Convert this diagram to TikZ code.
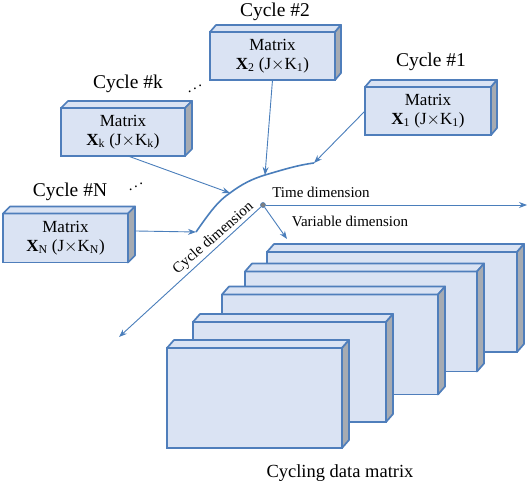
\documentclass[tikz,border=0pt]{standalone}
\usepackage{fontspec}
\setmainfont{Liberation Serif}
\usetikzlibrary{arrows.meta, positioning, calc}
\definecolor{mtxline}{HTML}{4F7EBB}
\definecolor{mtxfill}{HTML}{DAE3F3}
\definecolor{mtxside}{HTML}{A6ABB2}
\definecolor{axisblue}{HTML}{4A7EBB}
\tikzset{
    mtx/.style={rectangle, draw=mtxline, fill=mtxfill, line width=1.7pt, inner sep=0pt, outer sep=0pt, align=center, font=\fontsize{17}{19}\selectfont},
    topface/.style={draw=mtxline, fill=mtxfill, line width=1.7pt, line join=round},
    sideface/.style={draw=mtxline, fill=mtxside, line width=1.7pt, line join=round},
    cyclelbl/.style={font=\fontsize{19.5}{21}\selectfont},
    dimlbl/.style={font=\fontsize{15}{17}\selectfont, inner sep=1pt},
    dotslbl/.style={font=\fontsize{15}{16}\selectfont, inner sep=0pt},
    arrow/.style={draw=axisblue, line width=0.9pt, -{Stealth[length=8pt, width=6pt]}},
    cyclecurve/.style={draw=axisblue, line width=1.6pt}
}
% faces haut et cote d'un bloc
\newcommand{\boxfaces}[3]{%
    \draw[topface] (#1.north west) -- ++(#2,#3) -- ($(#1.north east)+(#2,#3)$) -- (#1.north east) -- cycle;
    \draw[sideface] (#1.north east) -- ++(#2,#3) -- ($(#1.south east)+(#2,#3)$) -- (#1.south east) -- cycle;
}

\begin{document}
\begin{tikzpicture}[x=1pt, y=-1pt]
    \useasboundingbox (0,0) rectangle (528,484);

    % --- BLOCS DE CYCLE ---
    \node (cyc2) [mtx, minimum width=125pt, minimum height=48pt] at (272.5,56) {Matrix\\\textbf{X}\textsubscript{2} (J$\times$K\textsubscript{1})};
    \boxfaces{cyc2}{6}{-7}
    \node (cyc1) [mtx, minimum width=126pt, minimum height=48pt] at (428,111) {Matrix\\\textbf{X}\textsubscript{1} (J$\times$K\textsubscript{1})};
    \boxfaces{cyc1}{6}{-7}
    \node (cyck) [mtx, minimum width=124pt, minimum height=48pt] at (123,132) {Matrix\\\textbf{X}\textsubscript{k} (J$\times$K\textsubscript{k})};
    \boxfaces{cyck}{7}{-7}
    \node (cycN) [mtx, minimum width=125pt, minimum height=49pt] at (65.5,238) {Matrix\\\textbf{X}\textsubscript{N} (J$\times$K\textsubscript{N})};
    \boxfaces{cycN}{7}{-7}

    \node (lbl2) [cyclelbl] at (275,12) {Cycle \#2};
    \node (lbl1) [cyclelbl] at (431,62) {Cycle \#1};
    \node (lblk) [cyclelbl] at (128,84) {Cycle \#k};
    \node (lblN) [cyclelbl] at (70,192) {Cycle \#N};
    \node (dotsk) [dotslbl] at (195,86) {\reflectbox{$\ddots$}};
    \node (dotsN) [dotslbl] at (136,184) {\reflectbox{$\ddots$}};

    % --- COURBE DES CYCLES ---
    \coordinate (tN) at (196,232);
    \coordinate (tk) at (230,193);
    \coordinate (t2) at (265,175);
    \coordinate (t1) at (314,163);
    \draw [cyclecurve] (tN) .. controls (210,212) and (218,201) .. (tk) .. controls (242,184) and (252,179) .. (t2) .. controls (282,170) and (298,165) .. (t1);

    \draw [arrow] (cyc2.south) -- (t2);
    \draw [arrow] (cyc1.west) -- (t1);
    \draw [arrow] ([xshift=5pt]cyck.south) -- (tk);
    \draw [arrow] ($(cycN.east)+(8,-7)$) -- (tN);

    % --- AXES ---
    \coordinate (timeend) at (527,205);
    \coordinate (varend) at (287,239);
    \coordinate (cycend) at (119,337);
    \node (orig) [circle, fill=gray, draw=axisblue, line width=0.6pt, inner sep=0pt, minimum size=5pt] at (263,205) {};
    \draw [arrow] (orig) -- (timeend);
    \draw [arrow] (orig) -- (varend);
    \draw [arrow] (orig) -- (cycend);

    \node (tdim) [dimlbl] at (321,192) {Time dimension};
    \node (vdim) [dimlbl] at (350,221) {Variable dimension};
    \node (cdim) [dimlbl, rotate=41] at (213.5,238.5) {Cycle dimension};

    % --- PILE DE MATRICES ---
    \node (layer1) [mtx, minimum width=250pt, minimum height=100pt] at (392,302) {};
    \boxfaces{layer1}{7}{-8}
    \node (layer2) [mtx, minimum width=232pt, minimum height=100pt] at (361,321.5) {};
    \boxfaces{layer2}{7}{-8}
    \node (layer3) [mtx, minimum width=216pt, minimum height=100pt] at (330,344.5) {};
    \boxfaces{layer3}{7}{-8}
    \node (layer4) [mtx, minimum width=193pt, minimum height=100pt] at (289.5,372) {};
    \boxfaces{layer4}{7}{-8}
    \node (layer5) [mtx, minimum width=175pt, minimum height=100pt] at (254.5,398) {};
    \boxfaces{layer5}{7}{-8}

    \node (title) [font=\fontsize{18.5}{20}\selectfont] at (340,473) {Cycling data matrix};

\end{tikzpicture}
\end{document}
